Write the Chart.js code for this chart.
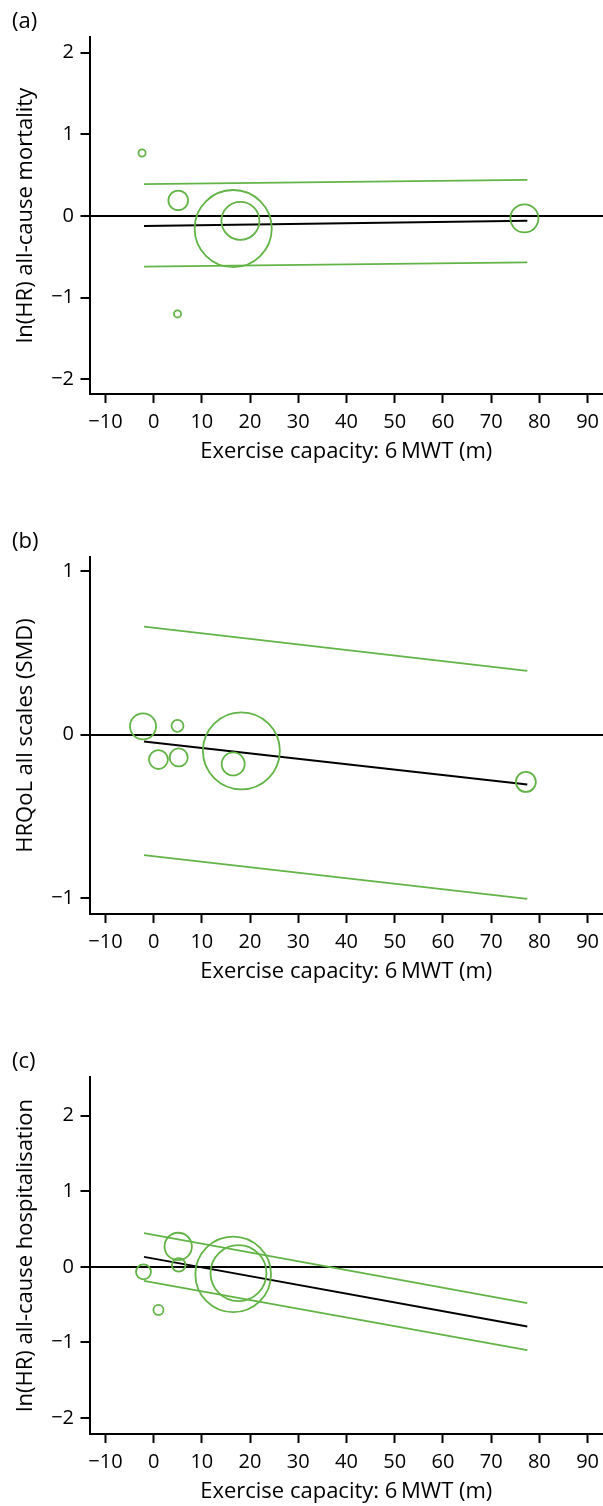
<!DOCTYPE html>
<html>
<head>
<meta charset="utf-8">
<title>Meta-regression on 6MWT</title>
<script src="https://cdn.jsdelivr.net/npm/chart.js@4.4.1/dist/chart.umd.min.js"></script>
<style>
  html, body { margin: 0; padding: 0; background: #fff; overflow: hidden; }
  #wrap { position: relative; width: 603px; height: 1506px; overflow: hidden; }
  #wrap canvas { position: absolute; left: 0; }
</style>
</head>
<body>
<div id="wrap">
  <canvas id="panelA" width="603" height="520" style="top:0px"></canvas>
  <canvas id="panelB" width="603" height="520" style="top:520px"></canvas>
  <canvas id="panelC" width="603" height="520" style="top:1040px"></canvas>
</div>
<script>
// ---- shared axis values ----
const xTicks = [-10, 0, 10, 20, 30, 40, 50, 60, 70, 80, 90];
const fitX = [-2, 77.5];           // span of the fitted meta-regression lines

// ---- (a) all-cause mortality ----
const aStudyX  = [-2.4, 5.1, 16.5, 18.0, 4.95, 76.9];
const aStudyY  = [0.77, 0.19, -0.155, -0.06, -1.2, -0.03];
const aWeight  = [0.8, 6.0, 93, 22.6, 0.8, 12.3];
const aFit     = [-0.125, -0.06];
const aUpper   = [0.39, 0.44];
const aLower   = [-0.62, -0.57];
const aYTicks  = [-2, -1, 0, 1, 2];

// ---- (b) HRQoL all scales ----
const bStudyX  = [-2.2, 4.95, 1.0, 5.2, 16.5, 18.2, 77.2];
const bStudyY  = [0.05, 0.053, -0.153, -0.14, -0.18, -0.10, -0.29];
const bWeight  = [10.6, 2.25, 5.6, 5.1, 8.3, 92.6, 6.25];
const bFit     = [-0.043, -0.306];
const bUpper   = [0.66, 0.39];
const bLower   = [-0.738, -1.005];
const bYTicks  = [-1, 0, 1];

// ---- (c) all-cause hospitalisation ----
const cStudyX  = [5.1, 5.2, -2.1, 1.0, 16.5, 17.6];
const cStudyY  = [0.27, 0.026, -0.066, -0.57, -0.10, -0.083];
const cWeight  = [11.7, 2.9, 3.5, 1.56, 89.3, 49];
const cFit     = [0.132, -0.79];
const cUpper   = [0.445, -0.48];
const cLower   = [-0.185, -1.10];
const cYTicks  = [-2, -1, 0, 1, 2];

const GREEN = 'rgb(98,180,70)';
const FONT = '"Open Sans", "Noto Sans", sans-serif';
const TITLE_SIZE = 22;
const TICK_SIZE = 20;
const fmt = v => (v < 0 ? '\u2212' + Math.abs(v) : String(v));

// panel letter in the top-left corner
const panelLabel = {
  id: 'panelLabel',
  afterDraw(chart, args, opts) {
    const ctx = chart.ctx;
    ctx.save();
    ctx.font = TITLE_SIZE + 'px ' + FONT;
    ctx.fillStyle = '#000';
    ctx.textBaseline = 'middle';
    ctx.textAlign = 'left';
    ctx.fillText(opts.text, 12, 22);
    ctx.restore();
  }
};

function lineSet(ys, color) {
  return {
    type: 'line',
    data: fitX.map((x, i) => ({ x: x, y: ys[i] })),
    borderColor: color,
    borderWidth: color === '#000' ? 2 : 1.8,
    pointRadius: 0,
    fill: false,
    tension: 0,
    order: 1
  };
}

function makePanel(id, letter, yTitle, yMin, yMax, yTicks, sx, sy, sw, fit, upper, lower) {
  const studies = sx.map((x, i) => ({ x: x, y: sy[i], r: 4 * Math.sqrt(sw[i]) }));
  const titleLH = TITLE_SIZE * 1.2;
  new Chart(document.getElementById(id), {
    type: 'bubble',
    data: {
      datasets: [
        {
          type: 'bubble',
          data: studies,
          backgroundColor: 'rgba(0,0,0,0)',
          borderColor: GREEN,
          borderWidth: 1.8,
          order: 0
        },
        lineSet(upper, GREEN),
        lineSet(lower, GREEN),
        lineSet(fit, '#000')
      ]
    },
    options: {
      responsive: false,
      animation: false,
      devicePixelRatio: 1,
      layout: { autoPadding: false, padding: { top: 37, left: 0, right: 0, bottom: 0 } },
      plugins: {
        legend: { display: false },
        tooltip: { enabled: false },
        panelLabel: { text: letter }
      },
      scales: {
        x: {
          type: 'linear',
          min: -13.3,
          max: 93.2,
          afterFit: s => { s.height = 126; s.paddingLeft = 0; s.paddingRight = 0; },
          afterBuildTicks: s => { s.ticks = xTicks.map(v => ({ value: v })); },
          border: { display: true, color: '#000', width: 2 },
          grid: { display: true, drawOnChartArea: false, drawTicks: true,
                  tickLength: 9, tickWidth: 2, tickColor: '#000' },
          ticks: { color: '#000', padding: 7, maxRotation: 0,
                   font: { family: FONT, size: TICK_SIZE }, callback: v => fmt(v) },
          title: { display: true, text: 'Exercise capacity: 6\u2009MWT (m)', color: '#000',
                   font: { family: FONT, size: TITLE_SIZE },
                   padding: { top: 0, bottom: 68 - titleLH / 2 } }
        },
        y: {
          type: 'linear',
          min: yMin,
          max: yMax,
          afterFit: s => { s.width = 89.5; s.paddingTop = 0; s.paddingBottom = 0; },
          afterBuildTicks: s => { s.ticks = yTicks.map(v => ({ value: v })); },
          border: { display: true, color: '#000', width: 2 },
          grid: { display: true, drawOnChartArea: true, drawTicks: true,
                  tickLength: 9, tickWidth: 2, tickColor: '#000', lineWidth: 2,
                  color: c => (c.tick && c.tick.value === 0 ? '#000' : 'rgba(0,0,0,0)') },
          ticks: { color: '#000', padding: 6.5,
                   font: { family: FONT, size: TICK_SIZE }, callback: v => fmt(v) },
          title: { display: true, text: yTitle, color: '#000',
                   font: { family: FONT, size: TITLE_SIZE },
                   padding: { top: 26 - titleLH / 2, bottom: 0 } }
        }
      }
    },
    plugins: [panelLabel]
  });
}

makePanel('panelA', '(a)', 'ln(HR) all-cause mortality', -2.18, 2.19, aYTicks,
          aStudyX, aStudyY, aWeight, aFit, aUpper, aLower);
makePanel('panelB', '(b)', 'HRQoL all scales (SMD)', -1.098, 1.086, bYTicks,
          bStudyX, bStudyY, bWeight, bFit, bUpper, bLower);
makePanel('panelC', '(c)', 'ln(HR) all-cause hospitalisation', -2.21, 2.51, cYTicks,
          cStudyX, cStudyY, cWeight, cFit, cUpper, cLower);
</script>
</body>
</html>
